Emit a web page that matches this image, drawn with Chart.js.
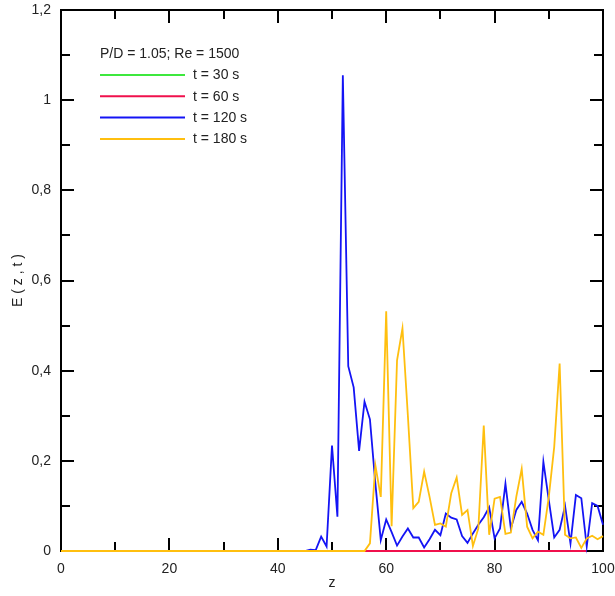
<!DOCTYPE html>
<html>
<head>
<meta charset="utf-8">
<script src="https://cdn.jsdelivr.net/npm/chart.js@4.4.1/dist/chart.umd.min.js"></script>
<style>
  html, body { margin: 0; padding: 0; background: #fff; }
  #wrap { width: 615px; height: 596px; }
</style>
</head>
<body>
<div id="wrap"><canvas id="chart" width="615" height="596"></canvas></div>
<script>
  // data
  var zAll = [0, 1, 2, 3, 4, 5, 6, 7, 8, 9, 10, 11, 12, 13, 14, 15, 16, 17, 18, 19,
    20, 21, 22, 23, 24, 25, 26, 27, 28, 29, 30, 31, 32, 33, 34, 35, 36, 37, 38, 39,
    40, 41, 42, 43, 44, 45, 46, 47, 48, 49, 50, 51, 52, 53, 54, 55, 56, 57, 58, 59,
    60, 61, 62, 63, 64, 65, 66, 67, 68, 69, 70, 71, 72, 73, 74, 75, 76, 77, 78, 79,
    80, 81, 82, 83, 84, 85, 86, 87, 88, 89, 90, 91, 92, 93, 94, 95, 96, 97, 98, 99, 100];

  var z30 = [0, 1, 2, 3, 4, 5, 6, 7, 8];
  var e30 = [0, 0, 0, 0, 0, 0, 0, 0, 0];

  var z60 = [0, 10, 20, 30, 40, 50, 56, 60, 70, 80, 90, 97];
  var e60 = [0, 0, 0, 0, 0, 0, 0, 0, 0, 0, 0, 0];

  var e120 = [0, 0, 0, 0, 0, 0, 0, 0, 0, 0, 0, 0, 0, 0, 0, 0, 0, 0, 0, 0,
    0, 0, 0, 0, 0, 0, 0, 0, 0, 0, 0, 0, 0, 0, 0, 0, 0, 0, 0, 0,
    0, 0, 0, 0, 0, 0, 0.003, 0.002, 0.032, 0.01, 0.234, 0.076, 1.055, 0.41, 0.363, 0.222, 0.331, 0.292, 0.15, 0.024,
    0.07, 0.042, 0.012, 0.032, 0.05, 0.03, 0.03, 0.008, 0.026, 0.047, 0.035, 0.083, 0.074, 0.07, 0.033, 0.018, 0.039, 0.058, 0.075, 0.097,
    0.028, 0.05, 0.149, 0.05, 0.091, 0.109, 0.083, 0.047, 0.024, 0.198, 0.113, 0.03, 0.047, 0.1, 0.017, 0.124, 0.117, 0.01, 0.106, 0.1, 0.058];

  var e180 = [0, 0, 0, 0, 0, 0, 0, 0, 0, 0, 0, 0, 0, 0, 0, 0, 0, 0, 0, 0,
    0, 0, 0, 0, 0, 0, 0, 0, 0, 0, 0, 0, 0, 0, 0, 0, 0, 0, 0, 0,
    0, 0, 0, 0, 0, 0, 0, 0, 0, 0, 0, 0, 0, 0, 0, 0, 0, 0.017, 0.19, 0.12,
    0.532, 0.055, 0.423, 0.494, 0.3, 0.095, 0.109, 0.176, 0.12, 0.058, 0.061, 0.054, 0.128, 0.163, 0.08, 0.091, 0.011, 0.05, 0.278, 0.036,
    0.116, 0.12, 0.038, 0.041, 0.12, 0.182, 0.054, 0.028, 0.043, 0.036, 0.12, 0.231, 0.416, 0.036, 0.028, 0.03, 0.007, 0.028, 0.034, 0.026, 0.033];

  var seriesLabels = ['t = 30 s', 't = 60 s', 't = 120 s', 't = 180 s'];
  var seriesColors = ['#3ee83e', '#f0104c', '#1414f5', '#ffbf0f'];
  var legendTitle = 'P/D = 1.05; Re = 1500';

  var xTicks = [0, 20, 40, 60, 80, 100];
  var yTicks = [0, 0.2, 0.4, 0.6, 0.8, 1, 1.2];
  var yTickLabels = ['0', '0,2', '0,4', '0,6', '0,8', '1', '1,2'];

  function pts(xs, ys) {
    return xs.map(function (x, i) { return { x: x, y: ys[i] }; });
  }

  var FONT = '"Liberation Sans", Arial, sans-serif';
  var TXT = '#222';

  // frame, inward ticks and the legend box
  var framePlugin = {
    id: 'frame',
    beforeDatasetsDraw: function (chart) {
      var ctx = chart.ctx, a = chart.chartArea;
      var xs = chart.scales.x, ys = chart.scales.y;
      ctx.save();
      ctx.strokeStyle = '#000';
      ctx.lineWidth = 2;
      ctx.strokeRect(a.left, a.top, a.right - a.left, a.bottom - a.top);
      ctx.beginPath();
      for (var v = 10; v < 100; v += 10) {
        var px = Math.round(xs.getPixelForValue(v));
        var len = (v % 20 === 0) ? 13 : 9;
        ctx.moveTo(px, a.bottom); ctx.lineTo(px, a.bottom - len);
        ctx.moveTo(px, a.top); ctx.lineTo(px, a.top + len);
      }
      for (var k = 1; k < 12; k++) {
        var py = Math.round(ys.getPixelForValue(k / 10));
        var l2 = (k % 2 === 0) ? 13 : 9;
        ctx.moveTo(a.left, py); ctx.lineTo(a.left + l2, py);
        ctx.moveTo(a.right, py); ctx.lineTo(a.right - l2, py);
      }
      ctx.stroke();
      ctx.restore();
    },
    afterDraw: function (chart) {
      var ctx = chart.ctx;
      ctx.save();
      ctx.font = '14px ' + FONT;
      ctx.fillStyle = TXT;
      ctx.textBaseline = 'middle';
      ctx.fillText(legendTitle, 100, 54);
      chart.data.datasets.forEach(function (ds, i) {
        var y = 75 + i * 21.3;
        ctx.strokeStyle = ds.borderColor;
        ctx.lineWidth = 2;
        ctx.beginPath();
        ctx.moveTo(100, y); ctx.lineTo(185, y);
        ctx.stroke();
        ctx.fillText(ds.label, 193, y + 0.5);
      });
      ctx.restore();
    }
  };

  var datasets = [
    { label: seriesLabels[0], data: pts(z30, e30), borderColor: seriesColors[0], order: 3 },
    { label: seriesLabels[1], data: pts(z60, e60), borderColor: seriesColors[1], order: 2 },
    { label: seriesLabels[2], data: pts(zAll, e120), borderColor: seriesColors[2], order: 1 },
    { label: seriesLabels[3], data: pts(zAll, e180), borderColor: seriesColors[3], order: 0 }
  ];
  datasets.forEach(function (ds) {
    ds.borderWidth = 1.8;
    ds.pointRadius = 0;
    ds.tension = 0;
    ds.fill = false;
    ds.clip = 4;
  });

  new Chart(document.getElementById('chart').getContext('2d'), {
    type: 'line',
    data: { datasets: datasets },
    options: {
      responsive: false,
      animation: false,
      events: [],
      layout: { padding: { top: 10, right: 12, left: 0, bottom: 0 } },
      plugins: { legend: { display: false }, tooltip: { enabled: false } },
      scales: {
        x: {
          type: 'linear', min: 0, max: 100,
          grid: { display: false, drawTicks: false },
          border: { display: false },
          afterBuildTicks: function (s) { s.ticks = xTicks.map(function (v) { return { value: v }; }); },
          afterFit: function (s) { s.height = 45; s.paddingLeft = 0; s.paddingRight = 0; },
          ticks: { font: { size: 14, family: FONT }, color: TXT, padding: 10, maxRotation: 0 },
          title: { display: true, text: 'z', font: { size: 14, family: FONT }, color: TXT, padding: { top: 0, bottom: 4 } }
        },
        y: {
          min: 0, max: 1.2,
          grid: { display: false, drawTicks: false },
          border: { display: false },
          afterBuildTicks: function (s) { s.ticks = yTicks.map(function (v) { return { value: v }; }); },
          afterFit: function (s) { s.width = 61; s.paddingTop = 0; s.paddingBottom = 0; },
          ticks: {
            font: { size: 14, family: FONT }, color: TXT, padding: 10,
            callback: function (v, i) { return yTickLabels[i]; }
          },
          title: { display: true, text: 'E ( z , t )', font: { size: 14, family: FONT }, color: TXT, padding: { top: 10, bottom: 0 } }
        }
      }
    },
    plugins: [framePlugin]
  });
</script>
</body>
</html>
